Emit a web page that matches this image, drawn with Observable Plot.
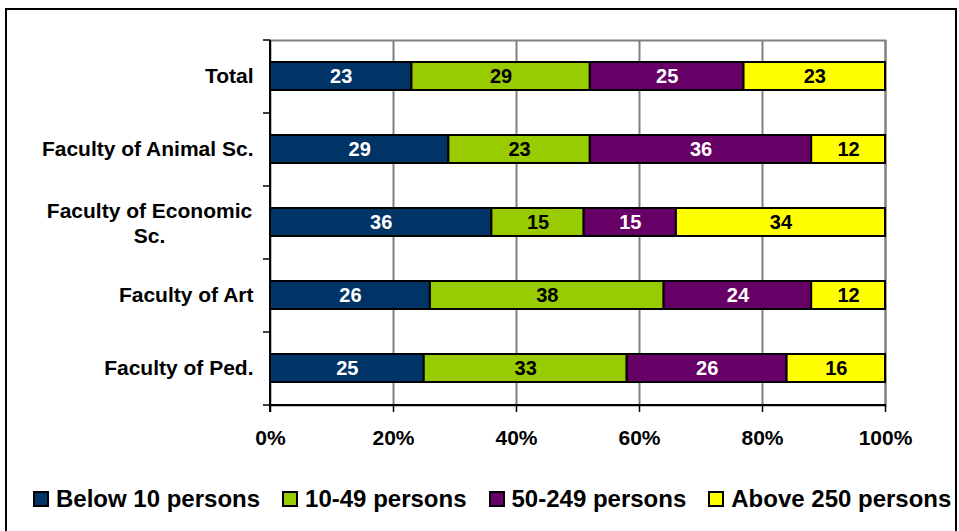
<!DOCTYPE html>
<html>
<head>
<meta charset="utf-8">
<script src="https://cdn.jsdelivr.net/npm/d3@7"></script>
<script src="https://cdn.jsdelivr.net/npm/@observablehq/plot@0.6"></script>
<style>
  body { margin: 0; background: #fff; font-family: Arial, "Liberation Sans", sans-serif; }
  #wrap { position: relative; width: 959px; height: 531px; overflow: hidden; background: #fff; }
  #border { position: absolute; left: 5px; top: 8px; width: 952px; height: 580px; border: 2px solid #000; box-sizing: border-box; pointer-events: none; }
  #chart { position: absolute; left: 0; top: 0; }
  #legend { position: absolute; left: 33px; top: 485px; display: flex; align-items: center; gap: 22px;
            font: bold 24px Arial, "Liberation Sans", sans-serif; line-height: 28px; color: #000; white-space: nowrap; }
  .item { display: flex; align-items: center; }
  .sw { width: 16px; height: 16px; border: 2px solid #000; box-sizing: border-box; margin-right: 7px; }
</style>
</head>
<body>
<div id="wrap">
  <div id="chart"></div>
  <div id="legend"></div>
  <div id="border"></div>
</div>
<script>
const categories = ["Total", "Faculty of Animal Sc.", "Faculty of Economic Sc.", "Faculty of Art", "Faculty of Ped."];
const categoryLabels = ["Total", "Faculty of Animal Sc.", "Faculty of Economic\nSc.", "Faculty of Art", "Faculty of Ped."];
const groups = ["Below 10 persons", "10-49 persons", "50-249 persons", "Above 250 persons"];
const colors = ["#003366", "#99CC00", "#660066", "#FFFF00"];
const lightLabelGroups = ["Below 10 persons", "50-249 persons"];
const below10 = [23, 29, 36, 26, 25];
const from10to49 = [29, 23, 15, 38, 33];
const from50to249 = [25, 36, 15, 24, 26];
const above250 = [23, 12, 34, 12, 16];
const xTicks = [0, 20, 40, 60, 80, 100];

const seriesValues = [below10, from10to49, from50to249, above250];
const rows = [];
categories.forEach((c, i) => {
  groups.forEach((g, j) => rows.push({category: c, group: g, value: seriesValues[j][i]}));
});
const labelRows = categories.map((c, i) => ({category: c, label: categoryLabels[i]}));
const singleLine = labelRows.filter(d => !d.label.includes("\n"));
const multiLine = labelRows.filter(d => d.label.includes("\n"));

const font = "Arial, 'Liberation Sans', sans-serif";
const plot = Plot.plot({
  width: 959,
  height: 470,
  marginLeft: 270,
  marginRight: 74,
  marginTop: 40,
  marginBottom: 65,
  style: {fontFamily: font, fontWeight: "bold", background: "transparent", color: "#000"},
  x: {domain: [0, 100], label: null},
  y: {domain: categories, paddingInner: 0.616, paddingOuter: 0.308, axis: null},
  color: {domain: groups, range: colors},
  marks: [
    Plot.frame({stroke: "#808080", strokeWidth: 2}),
    Plot.ruleX(xTicks.slice(1), {stroke: "#808080", strokeWidth: 2}),
    Plot.barX(rows, Plot.stackX({x: "value", y: "category", fill: "group", stroke: "#000", strokeWidth: 2})),
    Plot.text(rows, Plot.stackX({x: "value", y: "category",
      text: d => lightLabelGroups.includes(d.group) ? String(d.value) : null,
      fill: "#fff", fontSize: 20, fontWeight: "bold"})),
    Plot.text(rows, Plot.stackX({x: "value", y: "category",
      text: d => lightLabelGroups.includes(d.group) ? null : String(d.value),
      fill: "#000", fontSize: 20, fontWeight: "bold"})),
    Plot.text(singleLine, {y: "category", text: "label", frameAnchor: "left", textAnchor: "end", dx: -17, fontSize: 21, fontWeight: "bold", fill: "#000"}),
    Plot.text(multiLine, {y: "category", text: "label", frameAnchor: "left", textAnchor: "middle", dx: -121, lineHeight: 1.2, fontSize: 21, fontWeight: "bold", fill: "#000"}),
    Plot.axisX({ticks: xTicks, tickSize: 7, tickPadding: 18, tickFormat: d => d + "%", label: null, fontSize: 21, fontWeight: "bold", stroke: "#000", strokeWidth: 1.5})
  ]
});
document.getElementById("chart").appendChild(plot);

// axis lines and category-boundary ticks
const svg = d3.select(plot);
const xs = plot.scale("x");
const ys = plot.scale("y");
const x0 = xs.apply(0), x1 = xs.apply(100);
const yTop = Math.min(...ys.range), yBot = Math.max(...ys.range);
const step = (yBot - yTop) / categories.length;
const g = svg.append("g").attr("stroke", "#000").attr("stroke-width", 2);
g.append("line").attr("x1", x0).attr("x2", x0).attr("y1", yTop).attr("y2", yBot + 7);
g.append("line").attr("x1", x0 - 1).attr("x2", x1 + 1).attr("y1", yBot).attr("y2", yBot);
d3.range(categories.length + 1).forEach(i => {
  const yy = yTop + i * step;
  g.append("line").attr("x1", x0 - 7).attr("x2", x0).attr("y1", yy).attr("y2", yy).attr("stroke-width", 1.5);
});

// legend
const legend = d3.select("#legend");
groups.forEach((grp, i) => {
  const it = legend.append("div").attr("class", "item");
  it.append("div").attr("class", "sw").style("background", colors[i]);
  it.append("span").text(grp);
});
</script>
</body>
</html>
